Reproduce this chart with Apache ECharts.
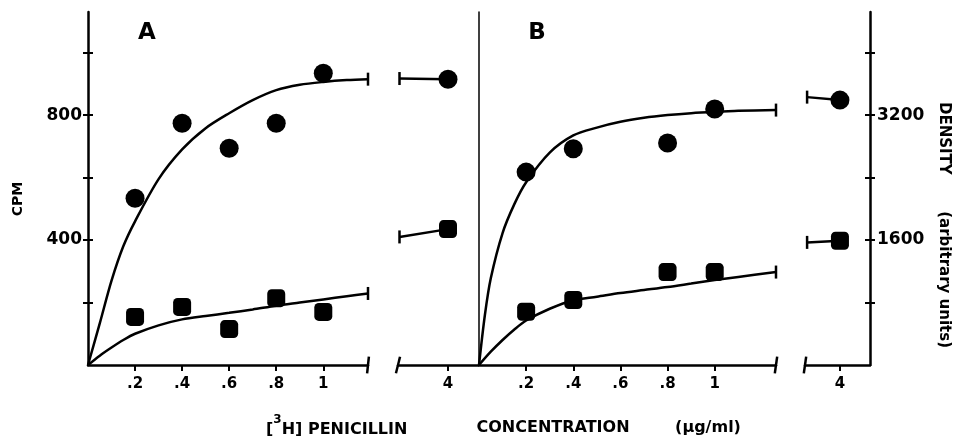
<!DOCTYPE html>
<html style="height: 100%">
<head>
  <meta charset="UTF-8" />
  <title>Penicillin binding</title>
  <script src="https://cdn.jsdelivr.net/npm/echarts@6.0.0/dist/echarts.min.js"></script>
</head>
<body style="height: 100%; margin: 0; background: #fff">
  <div id="container" style="width: 953px; height: 440px"></div>
  <script>
    // tick values
    const xTicks = [0.2, 0.4, 0.6, 0.8, 1];
    const breakTicks = [4];
    const cpmTicks = [200, 400, 600, 800, 1000];
    const cpmLabels = [400, 800];
    const densTicks = [800, 1600, 2400, 3200, 4000];
    const densLabels = [1600, 3200];

    // panel A (CPM)
    const aDoses = [0.2, 0.4, 0.6, 0.8, 1, 4];
    const aCircles = [534, 774, 694, 774, 934, 915];
    const aSquares = [154, 186, 115, 214, 170, 435];
    const aCurveX = [0, 0.05, 0.1, 0.15, 0.2, 0.3, 0.4, 0.5, 0.6, 0.7, 0.8, 0.9, 1, 1.1, 1.19];
    const aUpperFit = [0, 133, 270, 380, 460, 595, 690, 758, 806, 848, 880, 897, 906, 912, 915];
    const aLowerFit = [0, 30, 56, 80, 100, 127, 146, 157, 167, 178, 190, 200, 210, 220, 229];
    const aBreakX = [3.03, 4];
    const aBreakUpper = [917, 915];
    const aBreakLower = [410, 435];

    // panel B (density, arbitrary units)
    const bDoses = [0.2, 0.4, 0.8, 1, 4];
    const bCircles = [2470, 2770, 2842, 3277, 3392];
    const bSquares = [682, 832, 1190, 1190, 1591];
    const bUpperX = [0, 0.025, 0.05, 0.1, 0.15, 0.2, 0.3, 0.4, 0.5, 0.6, 0.7, 0.8, 0.9, 1, 1.1, 1.26];
    const bUpperFit = [0, 640, 1110, 1690, 2060, 2340, 2720, 2940, 3040, 3114, 3165, 3200, 3225, 3242, 3255, 3264];
    const bLowerX = [0, 0.05, 0.1, 0.15, 0.2, 0.3, 0.4, 0.5, 0.6, 0.7, 0.8, 0.9, 1, 1.1, 1.26];
    const bLowerFit = [0, 170, 320, 455, 570, 720, 830, 875, 922, 960, 998, 1043, 1088, 1128, 1190];
    const bBreakX = [3.06, 4];
    const bBreakUpper = [3430, 3392];
    const bBreakLower = [1570, 1591];

    const FONT = '"DejaVu Sans", sans-serif';
    const CAP = { symbol: 'rect', symbolSize: [2.5, 13] };
    const xMax = { a: 1.19, a2: 4.6, b: 1.26, b2: 4.86 };

    function zip(xs, ys) {
      return xs.map((x, i) => [x, ys[i]]);
    }

    // line with a bar cap on the start or the end
    function capped(xs, ys, capAt) {
      return zip(xs, ys).map((p, i) => {
        const isCap = (capAt === 'end' && i === xs.length - 1) || (capAt === 'start' && i === 0);
        return isCap ? { value: p, ...CAP } : { value: p, symbol: 'none' };
      });
    }

    function curve(xi, yi, data) {
      return {
        type: 'line', xAxisIndex: xi, yAxisIndex: yi, data: data,
        smooth: 0.3, showSymbol: true, symbol: 'none',
        lineStyle: { color: '#000', width: 2.5 }, itemStyle: { color: '#000', opacity: 1 },
        silent: true, clip: false, z: 3
      };
    }

    function dots(xi, yi, data, shape, size) {
      return {
        type: 'scatter', xAxisIndex: xi, yAxisIndex: yi, data: data,
        symbol: shape, symbolSize: size, itemStyle: { color: '#000', opacity: 1 },
        clip: false, z: 4
      };
    }

    function marker(xi, yi, x, rot) {
      return {
        type: 'scatter', xAxisIndex: xi, yAxisIndex: yi, data: [[x, 0]],
        symbol: 'rect', symbolSize: [2.5, 17], symbolRotate: rot,
        itemStyle: { color: '#000', opacity: 1 }, clip: false, silent: true, z: 5
      };
    }

    const main = (xs, ys) => zip(xs, ys).filter(p => p[0] < 2);
    const brk = (xs, ys) => zip(xs, ys).filter(p => p[0] > 2);

    function xAxis(grid, min, max, ticks) {
      return {
        type: 'value', gridIndex: grid, min: min, max: max,
        axisLine: { show: true, onZero: false, lineStyle: { color: '#000', width: 2.5 } },
        axisTick: { show: true, customValues: ticks, length: 6, lineStyle: { color: '#000', width: 2 } },
        axisLabel: {
          customValues: ticks, margin: 12, color: '#000', fontSize: 15,
          fontWeight: 'bold', fontFamily: FONT,
          formatter: v => (v >= 1 ? String(v) : String(v).replace(/^0/, ''))
        },
        splitLine: { show: false }
      };
    }

    function yAxis(grid, max, opts) {
      return Object.assign({
        type: 'value', gridIndex: grid, min: 0, max: max,
        axisLine: { show: false },
        axisTick: { show: false },
        axisLabel: { show: false },
        splitLine: { show: false }
      }, opts);
    }

    const label = {
      color: '#000', fontSize: 17, fontWeight: 'bold', fontFamily: FONT,
      formatter: v => String(v)
    };
    const tickStyle = { color: '#000', width: 2 };

    const chart = echarts.init(document.getElementById('container'), null, { renderer: 'canvas' });

    const option = {
      animation: false,
      backgroundColor: '#fff',
      grid: [
        { left: 88, right: 953 - 368, top: 12, bottom: 75 },
        { left: 398, right: 953 - 478, top: 12, bottom: 75 },
        { left: 479, right: 953 - 776, top: 12, bottom: 75 },
        { left: 805, right: 953 - 870, top: 12, bottom: 75 }
      ],
      xAxis: [
        xAxis(0, 0, xMax.a, xTicks),
        xAxis(1, 3, xMax.a2, breakTicks),
        xAxis(2, 0, xMax.b, xTicks),
        xAxis(3, 3, xMax.b2, breakTicks)
      ],
      yAxis: [
        yAxis(0, 1130, {
          position: 'left',
          axisLine: { show: true, lineStyle: { color: '#000', width: 2.5 } },
          axisTick: { show: true, customValues: cpmTicks, length: 5, lineStyle: tickStyle },
          axisLabel: Object.assign({ customValues: cpmLabels, margin: 6 }, label)
        }),
        yAxis(0, 1130, {
          position: 'left',
          axisTick: { show: true, inside: true, customValues: cpmTicks, length: 5, lineStyle: tickStyle }
        }),
        yAxis(1, 1130, { show: false }),
        yAxis(2, 4520, {
          position: 'left',
          axisLine: { show: true, lineStyle: { color: '#000', width: 1.5 } }
        }),
        yAxis(3, 4520, {
          position: 'right',
          axisLine: { show: true, lineStyle: { color: '#000', width: 2.5 } },
          axisTick: { show: true, customValues: densTicks, length: 5, lineStyle: tickStyle },
          axisLabel: Object.assign({ customValues: densLabels, margin: 7 }, label)
        }),
        yAxis(3, 4520, {
          position: 'right',
          axisTick: { show: true, inside: true, customValues: densTicks, length: 5, lineStyle: tickStyle }
        })
      ],
      series: [
        // panel A
        curve(0, 0, capped(aCurveX, aUpperFit, 'end')),
        curve(0, 0, capped(aCurveX, aLowerFit, 'end')),
        dots(0, 0, main(aDoses, aCircles), 'circle', 19),
        dots(0, 0, main(aDoses, aSquares), 'roundRect', 18),
        curve(1, 2, capped(aBreakX, aBreakUpper, 'start')),
        curve(1, 2, capped(aBreakX, aBreakLower, 'start')),
        dots(1, 2, brk(aDoses, aCircles), 'circle', 19),
        dots(1, 2, brk(aDoses, aSquares), 'roundRect', 18),
        // panel B
        curve(2, 3, capped(bUpperX, bUpperFit, 'end')),
        curve(2, 3, capped(bLowerX, bLowerFit, 'end')),
        dots(2, 3, main(bDoses, bCircles), 'circle', 19),
        dots(2, 3, main(bDoses, bSquares), 'roundRect', 18),
        curve(3, 4, capped(bBreakX, bBreakUpper, 'start')),
        curve(3, 4, capped(bBreakX, bBreakLower, 'start')),
        dots(3, 4, brk(bDoses, bCircles), 'circle', 19),
        dots(3, 4, brk(bDoses, bSquares), 'roundRect', 18),
        // axis break marks
        marker(0, 0, xMax.a, -6),
        marker(1, 2, 3, -14),
        marker(2, 3, xMax.b, -8),
        marker(3, 4, 3, -8)
      ],
      graphic: [
        { type: 'text', x: 147, y: 33, style: { text: 'A', font: 'bold 23px ' + FONT, fill: '#000', align: 'center', verticalAlign: 'middle' } },
        { type: 'text', x: 537, y: 33, style: { text: 'B', font: 'bold 23px ' + FONT, fill: '#000', align: 'center', verticalAlign: 'middle' } },
        { type: 'text', x: 18, y: 199, rotation: Math.PI / 2, style: { text: 'CPM', font: 'bold 14px ' + FONT, fill: '#000', align: 'center', verticalAlign: 'middle' } },
        { type: 'text', x: 944, y: 225, rotation: -Math.PI / 2, style: { text: 'DENSITY       (arbitrary units)', font: 'bold 15px ' + FONT, fill: '#000', align: 'center', verticalAlign: 'middle' } },
        {
          type: 'text', x: 266, y: 426,
          style: {
            text: '{a|[}{s|3}{a|H] PENICILLIN}',
            fill: '#000', align: 'left', verticalAlign: 'middle',
            rich: {
              a: { fontSize: 16, fontWeight: 'bold', fontFamily: FONT, lineHeight: 24, verticalAlign: 'bottom' },
              s: { fontSize: 12, fontWeight: 'bold', fontFamily: FONT, lineHeight: 24, verticalAlign: 'top' }
            }
          }
        },
        { type: 'text', x: 553, y: 428, style: { text: 'CONCENTRATION', font: 'bold 16px ' + FONT, fill: '#000', align: 'center', verticalAlign: 'middle' } },
        { type: 'text', x: 708, y: 428, style: { text: '(μg/ml)', font: 'bold 16px ' + FONT, fill: '#000', align: 'center', verticalAlign: 'middle' } }
      ]
    };

    chart.setOption(option);
  </script>
</body>
</html>
